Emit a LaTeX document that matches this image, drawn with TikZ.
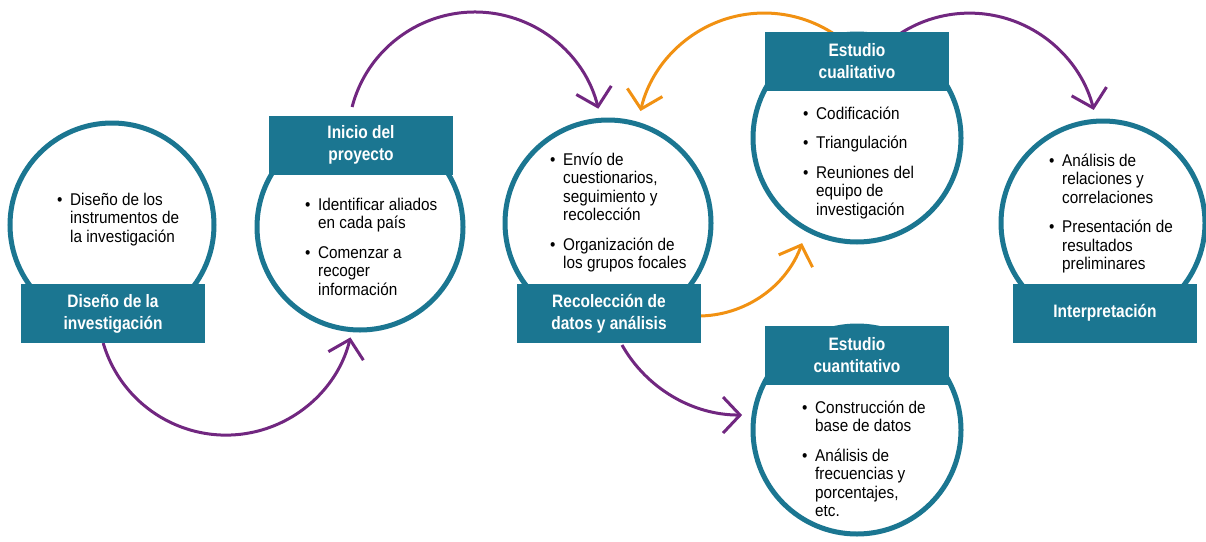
\documentclass[tikz,border=0pt]{standalone}
\usepackage{fontspec}
\setmainfont{Liberation Sans}[FakeStretch=0.9]
\newfontfamily\titlefont{Liberation Sans}[FakeStretch=0.86]
\usetikzlibrary{arrows.meta}
\definecolor{tealc}{RGB}{27,118,145}
\definecolor{purplec}{RGB}{113,39,128}
\definecolor{orangec}{RGB}{241,145,18}
\newcommand\bitem[1]{\par\hangindent=13pt\hangafter=1\noindent\makebox[13pt][l]{\textbullet}#1\par}
\newcommand\nl{\newline}
\newcommand\blist[1]{\parbox[t]{220pt}{\fontsize{17}{18.5}\selectfont\rightskip=0pt plus 1fil\setlength\parskip{11pt}#1}}
\tikzset{
  ring/.style={circle,draw=tealc,line width=5pt,fill=white,inner sep=0pt,minimum size=#1},
  titlebox/.style={rectangle,fill=tealc,inner sep=0pt,minimum width=184pt,minimum height=59pt,
    text=white,align=center,font=\titlefont\bfseries\fontsize{18}{22}\selectfont},
  bodytext/.style={anchor=base west,inner sep=0pt,text=black},
  flow/.style={line width=3pt,-{Straight Barb[length=17pt,width=36pt,line width=3pt]}},
}
\begin{document}
\begin{tikzpicture}[x=1pt,y=1pt]
\useasboundingbox (0,0) rectangle (1206,-541);
% connectors
\coordinate (aAs) at (103.2,-343);
\coordinate (aBs) at (352.1,-107);
\coordinate (aCs) at (837,-36);
\coordinate (aDs) at (898,-35);
\coordinate (aEs) at (698,-316);
\coordinate (aFs) at (622,-345);
\draw[flow,purplec] (aAs) arc[start angle=196.3,end angle=346.3,radius=128];
\draw[flow,purplec] (aBs) arc[start angle=165.4,end angle=13.8,radius=127];
\draw[flow,orangec] (aCs) arc[start angle=55,end angle=166.8,radius=127];
\draw[flow,purplec] (aDs) arc[start angle=124,end angle=14.1,radius=128];
\draw[flow,orangec] (aEs) arc[start angle=270,end angle=340,radius=110.8];
\draw[flow,purplec] (aFs) arc[start angle=209.5,end angle=270,radius=138];
% circles
\node[ring=204pt] (c1) at (112,-225) {};
\node[ring=206pt] (c2) at (360,-227) {};
\node[ring=206pt] (c3) at (608,-223) {};
\node[ring=208pt] (c4) at (857,-138) {};
\node[ring=204pt] (c5) at (1103,-223) {};
\node[ring=208pt] (c6) at (857,-430) {};
% title boxes
\node[titlebox] (r1) at (113,-313.5) {Diseño de la\\investigación};
\node[titlebox] (r2) at (361,-145) {Inicio del\\proyecto};
\node[titlebox] (r3) at (609,-313.5) {Recolección de\\datos y análisis};
\node[titlebox] (r4) at (857,-61) {Estudio\\cualitativo};
\node[titlebox] (r5) at (1105,-313) {Interpretación};
\node[titlebox] (r6) at (857,-355.5) {Estudio\\cuantitativo};
% body texts
\node[bodytext] (t1) at (57,-205) {\blist{\bitem{Diseño de los\nl instrumentos de\nl la investigación}}};
\node[bodytext] (t2) at (305,-210) {\blist{\bitem{Identificar aliados\nl en cada país}\bitem{Comenzar a\nl recoger\nl información}}};
\node[bodytext] (t3) at (550,-165) {\blist{\bitem{Envío de\nl cuestionarios,\nl seguimiento y\nl recolección}\bitem{Organización de\nl los grupos focales}}};
\node[bodytext] (t4) at (803,-119) {\blist{\bitem{Codificación}\bitem{Triangulación}\bitem{Reuniones del\nl equipo de\nl investigación}}};
\node[bodytext] (t5) at (1049,-166) {\blist{\bitem{Análisis de\nl relaciones y\nl correlaciones}\bitem{Presentación de\nl resultados\nl preliminares}}};
\node[bodytext] (t6) at (802,-413) {\blist{\bitem{Construcción de\nl base de datos}\bitem{Análisis de\nl frecuencias y\nl porcentajes,\nl etc.}}};
\end{tikzpicture}
\end{document}
